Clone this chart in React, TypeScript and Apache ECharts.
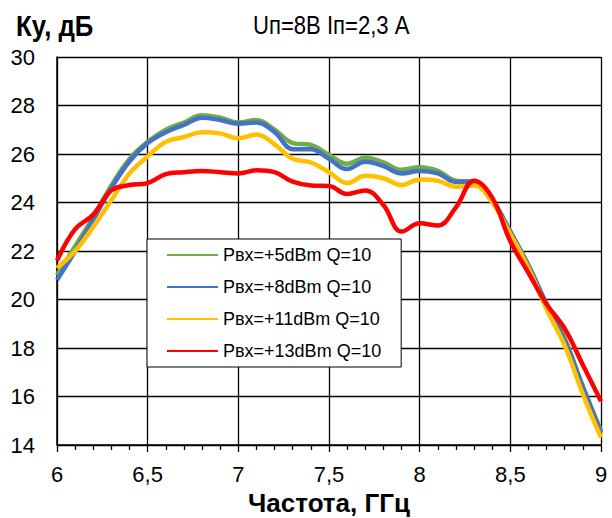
import React, { useEffect, useRef } from "react";
import * as echarts from "echarts";

const freq = [6.0, 6.1, 6.2, 6.3, 6.4, 6.5, 6.6, 6.7, 6.8, 6.9, 7.0, 7.1, 7.2, 7.3, 7.4, 7.5, 7.6, 7.7, 7.8, 7.9, 8.0, 8.1, 8.2, 8.3, 8.4, 8.5, 8.6, 8.7, 8.8, 8.9, 9.0];

const p5 = [21.0, 22.2, 23.4, 24.7, 25.8, 26.5, 27.0, 27.3, 27.6, 27.5, 27.3, 27.4, 27.0, 26.45, 26.37, 25.96, 25.6, 25.85, 25.65, 25.35, 25.45, 25.3, 24.9, 24.85, 24.1, 22.8, 21.4, 19.8, 18.4, 16.4, 14.6];
const p8 = [20.8, 22.0, 23.3, 24.6, 25.7, 26.45, 26.9, 27.2, 27.5, 27.4, 27.25, 27.3, 26.9, 26.2, 26.2, 25.8, 25.38, 25.68, 25.5, 25.2, 25.3, 25.2, 24.85, 24.85, 24.1, 22.8, 21.4, 19.8, 18.3, 16.4, 14.5];
const p11 = [21.3, 22.0, 23.0, 24.1, 25.2, 25.9, 26.5, 26.7, 26.9, 26.85, 26.65, 26.8, 26.4, 25.8, 25.65, 25.25, 24.8, 25.1, 25.0, 24.72, 24.95, 24.9, 24.65, 24.7, 24.0, 22.7, 21.3, 19.6, 18.1, 16.1, 14.3];
const p13 = [21.6, 22.9, 23.5, 24.5, 24.72, 24.8, 25.17, 25.25, 25.3, 25.25, 25.2, 25.33, 25.25, 24.86, 24.7, 24.68, 24.35, 24.5, 23.9, 22.8, 23.14, 23.05, 23.8, 24.9, 24.2, 22.4, 21.1, 19.8, 18.8, 17.3, 15.8];

const seriesNames = ["Pвх=+5dBm Q=10", "Pвх=+8dBm Q=10", "Pвх=+11dBm Q=10", "Pвх=+13dBm Q=10"];
const seriesValues = [p5, p8, p11, p13];
const seriesColors = ["#70AD47", "#4472C4", "#FFC000", "#FF0000"];

const yTitle = "Ку, дБ";
const chartTitle = "Uп=8В Iп=2,3 А";
const xTitle = "Частота, ГГц";

const FONT = "'Liberation Sans', Arial, sans-serif";

export default function App() {
  const ref = useRef<HTMLDivElement>(null);
  useEffect(() => {
    if (!ref.current) return;
    const chart = echarts.init(ref.current, undefined, { renderer: "svg" });
    chart.setOption({
      animation: false,
      backgroundColor: "#fff",
      grid: { left: 57, right: 11, top: 57, bottom: 73, containLabel: false, outerBoundsMode: "none" },
      graphic: [
        {
          type: "text",
          x: 16,
          y: 26,
          scaleX: 0.86,
          style: { text: yTitle, font: `bold 30px ${FONT}`, fill: "#000", align: "left", verticalAlign: "middle" },
        },
        {
          type: "text",
          x: 253,
          y: 25,
          scaleX: 0.85,
          style: { text: chartTitle, font: `26px ${FONT}`, fill: "#000", align: "left", verticalAlign: "middle" },
        },
      ],
      xAxis: {
        type: "value",
        min: 6,
        max: 9,
        interval: 0.5,
        name: xTitle,
        nameLocation: "middle",
        nameGap: 38,
        nameTextStyle: { fontFamily: FONT, fontWeight: "bold", fontSize: 26, color: "#000" },
        axisLine: { show: true, lineStyle: { color: "#000", width: 1.5 } },
        axisTick: { show: true, length: 7, lineStyle: { color: "#000", width: 1.3 } },
        minorTick: { show: true, splitNumber: 5, length: 5, lineStyle: { color: "#000", width: 1.3 } },
        splitLine: { show: true, lineStyle: { color: "#000", width: 1.3 } },
        axisLabel: {
          margin: 18,
          fontFamily: FONT,
          fontSize: 22,
          color: "#000",
          formatter: (v: number) => String(v).replace(".", ","),
        },
      },
      yAxis: {
        type: "value",
        min: 14,
        max: 30,
        interval: 2,
        axisLine: { show: true, lineStyle: { color: "#000", width: 1.5 } },
        axisTick: { show: false },
        splitLine: { show: true, lineStyle: { color: "#000", width: 1.3 } },
        axisLabel: { margin: 22, fontFamily: FONT, fontSize: 22, color: "#000" },
      },
      legend: {
        orient: "vertical",
        left: 147,
        top: 239,
        itemWidth: 51,
        itemHeight: 20,
        itemGap: 12,
        padding: [6, 20, 6, 19],
        backgroundColor: "#fff",
        borderColor: "#000",
        borderWidth: 1,
        itemStyle: { opacity: 0 },
        textStyle: { fontFamily: FONT, fontSize: 18, color: "#000", lineHeight: 20 },
        data: seriesNames,
        z: 10,
      },
      series: seriesNames.map((name, i) => ({
        name,
        type: "line",
        smooth: 0.4,
        symbol: "none",
        lineStyle: { color: seriesColors[i], width: 4.5 },
        itemStyle: { color: seriesColors[i] },
        data: freq.map((f, j) => [f, seriesValues[i][j]]),
        z: 2 + i,
      })),
    });
    return () => chart.dispose();
  }, []);
  return <div ref={ref} style={{ position: "fixed", left: 0, top: 0, width: 612, height: 518 }} />;
}
